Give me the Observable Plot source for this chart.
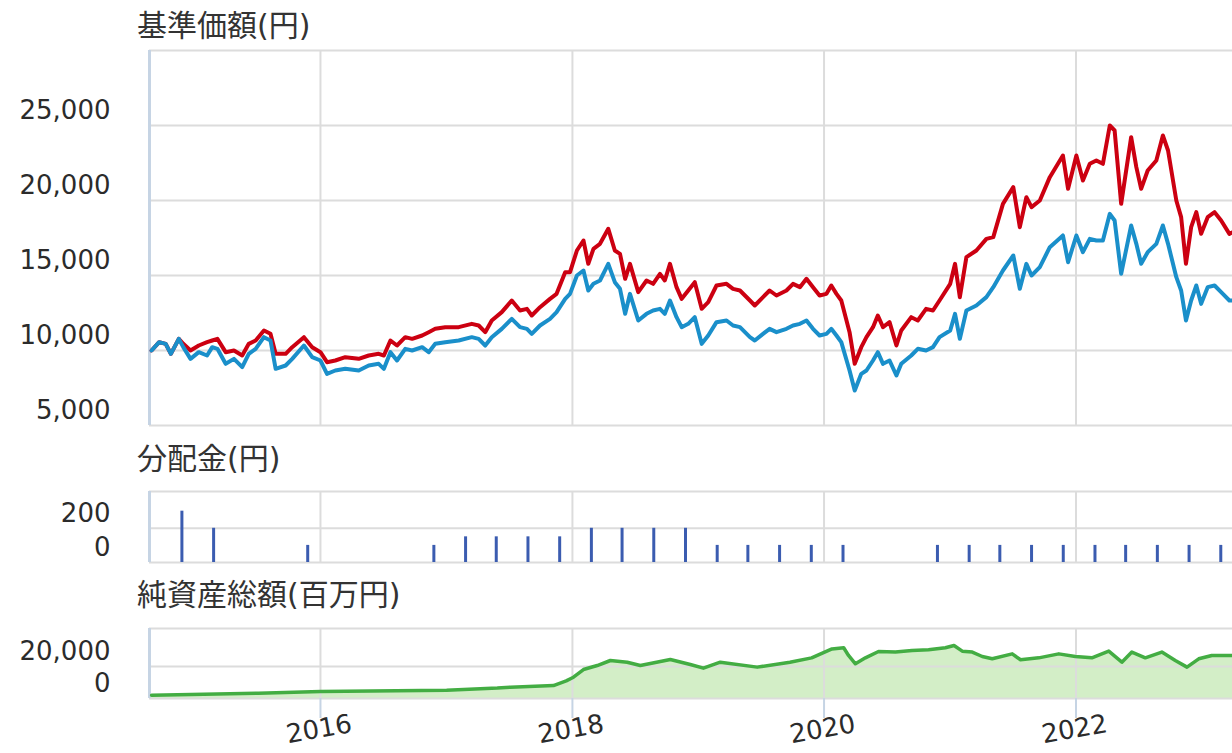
<!DOCTYPE html>
<html><head><meta charset="utf-8">
<script src="https://cdn.jsdelivr.net/npm/d3@7"></script>
<script src="https://cdn.jsdelivr.net/npm/@observablehq/plot@0.6"></script>
<style>
html,body{margin:0;padding:0;background:#fff;overflow:hidden;width:1232px;height:753px;}
#root{position:relative;width:1232px;height:753px;}
.title{position:absolute;left:137px;font-family:"DejaVu Sans","Noto Sans CJK JP",sans-serif;font-size:30px;line-height:30px;color:#333;white-space:nowrap;}
.panel{position:absolute;left:0;}
</style></head><body><div id="root">
<div class="title" style="top:11px">基準価額(円)</div>
<div class="title" style="top:444px">分配金(円)</div>
<div class="title" style="top:580px">純資産総額(百万円)</div>
<div class="panel" id="p1" style="top:0px"></div>
<div class="panel" id="p2" style="top:440px"></div>
<div class="panel" id="p3" style="top:570px"></div>
</div>
<script>
const priceDates = [
"2014-08-29","2014-09-20","2014-10-09","2014-10-24","2014-11-16","2014-11-29","2014-12-20",
"2015-01-13","2015-02-06","2015-02-21","2015-03-08","2015-04-01","2015-04-25","2015-05-19","2015-06-07","2015-06-27","2015-07-21","2015-08-09","2015-08-24","2015-09-22","2015-10-11","2015-11-14","2015-12-08",
"2016-01-01","2016-01-20","2016-02-13","2016-03-13","2016-04-21","2016-05-20","2016-06-18","2016-07-03","2016-07-22","2016-08-10","2016-09-03","2016-09-23","2016-10-22","2016-11-10","2016-11-29","2016-12-28",
"2017-02-05","2017-03-15","2017-04-04","2017-04-23","2017-05-12","2017-06-10","2017-07-09","2017-08-02","2017-08-22","2017-09-05","2017-09-29","2017-10-28","2017-11-16","2017-12-11","2017-12-25",
"2018-01-14","2018-02-02","2018-02-16","2018-03-03","2018-03-22","2018-04-15","2018-05-04","2018-05-19","2018-06-03","2018-06-17","2018-07-11","2018-08-04","2018-08-23","2018-09-12","2018-09-26","2018-10-11","2018-10-30","2018-11-14","2018-12-03","2018-12-22",
"2019-01-11","2019-01-30","2019-02-23","2019-03-24","2019-04-12","2019-05-02","2019-05-31","2019-06-14","2019-07-08","2019-07-27","2019-08-16","2019-09-14","2019-10-03","2019-10-23","2019-11-11","2019-11-30","2019-12-19",
"2020-01-08","2020-01-22","2020-02-06","2020-02-20","2020-03-15","2020-03-30","2020-04-18","2020-05-03","2020-05-22","2020-06-05","2020-06-20","2020-07-09","2020-07-29","2020-08-12","2020-09-10","2020-09-29","2020-10-23","2020-11-12","2020-12-01",
"2021-01-01","2021-01-15","2021-01-29","2021-02-17","2021-03-18","2021-04-16","2021-05-06","2021-06-03","2021-07-03","2021-07-22","2021-08-10","2021-08-25","2021-09-18","2021-10-17","2021-11-24","2021-12-09",
"2022-01-02","2022-01-21","2022-02-10","2022-03-01","2022-03-20","2022-04-09","2022-04-23","2022-05-12","2022-06-10","2022-06-25","2022-07-09","2022-07-28","2022-08-22","2022-09-10","2022-09-25","2022-10-19","2022-11-02","2022-11-16","2022-12-01","2022-12-16","2022-12-30",
"2023-01-18","2023-02-07","2023-02-26","2023-03-22","2023-03-31"
];
// 基準価額（分配金再投資）: red
const navReinvested = [
10000,10556,10444,9778,10778,10444,10000,
10333,10556,10667,10778,9889,10000,9667,10444,10667,11333,11111,9778,9778,10222,10889,10222,
9889,9222,9333,9556,9444,9667,9778,9667,10667,10333,10889,10778,11000,11222,11444,11556,
11556,11778,11667,11222,12000,12556,13333,12667,12778,12333,12889,13444,13778,15222,15222,
16667,17333,15778,16778,17111,18111,16667,16444,14778,15778,13889,14667,14444,15111,14667,15778,14222,13444,14000,14556,
12778,13222,14333,14444,14111,14000,13333,13000,13556,14000,13667,14000,14444,14222,14778,14222,13667,
13778,14333,13778,13333,11222,9111,10222,10889,11556,12333,11556,11889,10333,11333,12222,12000,12778,12667,13333,
14444,15778,13556,16222,16667,17444,17556,19778,20889,18222,20222,19556,20000,21556,23000,20778,
23000,21333,22444,22667,22444,25000,24667,19778,24222,22222,20778,22000,22667,24333,23333,20000,18889,15778,18222,19222,17778,
18889,19222,18667,17778,17870
];
// 基準価額: blue
const nav = [
10000,10556,10444,9778,10778,10222,9444,
9889,9667,10222,10111,9111,9444,8889,9778,10111,10889,10667,8778,9000,9444,10333,9556,
9333,8444,8667,8778,8667,9000,9111,8778,9889,9333,10111,10000,10222,9889,10444,10556,
10667,10889,10778,10333,10889,11444,12111,11556,11444,11111,11667,12111,12556,13444,13778,
15000,15333,14000,14444,14667,15778,14556,14111,12444,13778,12000,12444,12667,12778,12444,13333,12222,11556,11778,12222,
10444,11000,11889,12000,11667,11556,10889,10667,11111,11444,11222,11444,11667,11778,12000,11444,11000,
11111,11444,11000,10556,8667,7333,8444,8667,9333,9889,9111,9333,8333,9111,9667,10111,10000,10222,10889,
11333,12444,10778,12667,13000,13556,14222,15333,16333,14111,15778,15000,15556,16889,17667,15889,
17667,16556,17444,17333,17333,19111,18667,15111,18333,17111,15778,16556,17111,18333,17111,14889,14000,12000,13333,14333,13111,
14222,14333,13889,13333,13333
];
const dividendDates = ["2014-11-25","2015-02-25","2015-11-25","2016-11-25","2017-02-25","2017-05-25","2017-08-25","2017-11-25","2018-02-25","2018-05-25","2018-08-25","2018-11-25","2019-02-25","2019-05-25","2019-08-25","2019-11-25","2020-02-25","2020-11-25","2021-02-25","2021-05-25","2021-08-25","2021-11-25","2022-02-25","2022-05-25","2022-08-25","2022-11-25","2023-02-25"];
const dividendValues = [300,200,100,100,150,150,150,150,200,200,200,200,100,100,100,100,100,100,100,100,100,100,100,100,100,100,100];
const assetDates = ["2014-08-29","2015-07-05","2016-01-01","2016-08-08","2017-01-01","2017-05-28","2017-07-05","2017-11-07","2017-12-14","2018-01-04","2018-02-02","2018-03-14","2018-04-21","2018-06-09","2018-07-17","2018-10-12","2018-12-09","2019-01-16","2019-03-06","2019-06-21","2019-09-24","2019-11-26","2020-01-24","2020-02-27","2020-03-12","2020-04-01","2020-04-30","2020-06-07","2020-07-26","2020-09-12","2020-10-30","2020-12-18","2021-01-12","2021-02-05","2021-03-06","2021-04-04","2021-05-03","2021-06-30","2021-07-24","2021-09-15","2021-11-12","2021-12-30","2022-02-16","2022-04-06","2022-05-14","2022-06-12","2022-07-21","2022-09-07","2022-10-16","2022-11-19","2022-12-23","2023-01-30","2023-03-31"];
const assetValues = [2000,3300,4300,4800,5200,6500,7100,8100,11000,13300,18100,20600,23750,22700,20600,24400,21250,18960,22700,19600,22700,25400,31000,31700,26900,21700,25400,29400,29000,30000,30400,31700,33100,29600,29000,26250,24800,27900,24200,25400,27900,26250,25400,29600,22700,29000,25400,29000,23750,19600,24800,26900,26900];
const yearTickDates = ["2016-01-01","2018-01-01","2020-01-01","2022-01-01"];
const yearTickLabels = ["2016","2018","2020","2022"];
const priceTicks = [5000,10000,15000,20000,25000];
const dividendTicks = [0,200];
const assetTicks = [0,20000];

const parse = d3.utcParse("%Y-%m-%d");
const xDomain = [parse("2014-08-23"), parse("2023-03-31")];
const years = yearTickDates.map(parse);
const FONT = '"DejaVu Sans", "Noto Sans CJK JP", sans-serif';
const GRID = "#dcdcdc", AXIS = "#c6d4e4", TXT = "#2b2b2b";
const common = {
  width: 1232, marginLeft: 149, marginRight: 0,
  style: {fontFamily: FONT, fontSize: "26px", color: TXT, background: "transparent", overflow: "visible"}
};
const fmt = d3.format(",");
const yLabels = (ticks) => Plot.axisY(ticks, {tickSize: 0, tickPadding: 39, dy: -15, tickFormat: fmt, fill: TXT, fontSize: 26});
const grids = (ticks) => [
  Plot.gridY(ticks, {stroke: GRID, strokeOpacity: 1, strokeWidth: 2}),
  Plot.gridX(years, {stroke: GRID, strokeOpacity: 1, strokeWidth: 2}),
  Plot.ruleX([xDomain[0]], {stroke: AXIS, strokeWidth: 3})
];

const pIdx = d3.range(priceDates.length);
const p1 = Plot.plot({
  ...common, height: 440, marginTop: 50, marginBottom: 15,
  x: {type: "utc", domain: xDomain, axis: null},
  y: {domain: [5000, 30000], axis: null},
  marks: [
    ...grids([...priceTicks, 30000]),
    yLabels(priceTicks),
    Plot.line(pIdx, {x: i => parse(priceDates[i]), y: i => navReinvested[i], stroke: "#cc0011", strokeWidth: 4}),
    Plot.line(pIdx, {x: i => parse(priceDates[i]), y: i => nav[i], stroke: "#1a8fca", strokeWidth: 4})
  ]
});
document.getElementById("p1").append(p1);

const dIdx = d3.range(dividendDates.length);
const p2 = Plot.plot({
  ...common, height: 130, marginTop: 51, marginBottom: 8,
  x: {type: "utc", domain: xDomain, axis: null},
  y: {domain: [0, 415], axis: null},
  marks: [
    ...grids([...dividendTicks, 415]),
    yLabels(dividendTicks),
    Plot.ruleX(dIdx, {x: i => parse(dividendDates[i]), y1: 0, y2: i => dividendValues[i], stroke: "#3b5cb0", strokeWidth: 3})
  ]
});
document.getElementById("p2").append(p2);

const aIdx = d3.range(assetDates.length);
const p3 = Plot.plot({
  ...common, height: 183, marginTop: 58, marginBottom: 55,
  x: {type: "utc", domain: xDomain, axis: null},
  y: {domain: [0, 43750], axis: null},
  marks: [
    Plot.areaY(aIdx, {x: i => parse(assetDates[i]), y: i => assetValues[i], fill: "#d3eec7", fillOpacity: 1}),
    ...grids([...assetTicks, 43750]),
    yLabels(assetTicks),
    Plot.axisX(years, {tickSize: 20, tickFormat: () => "", stroke: AXIS, strokeWidth: 2}),
    Plot.text(years, {x: d => d, text: (d, i) => yearTickLabels[i], frameAnchor: "bottom", dy: 39, rotate: -10, textAnchor: "middle", fill: TXT, fontSize: 26}),
    Plot.line(aIdx, {x: i => parse(assetDates[i]), y: i => assetValues[i], stroke: "#43ad43", strokeWidth: 3.5})
  ]
});
document.getElementById("p3").append(p3);
</script></body></html>
